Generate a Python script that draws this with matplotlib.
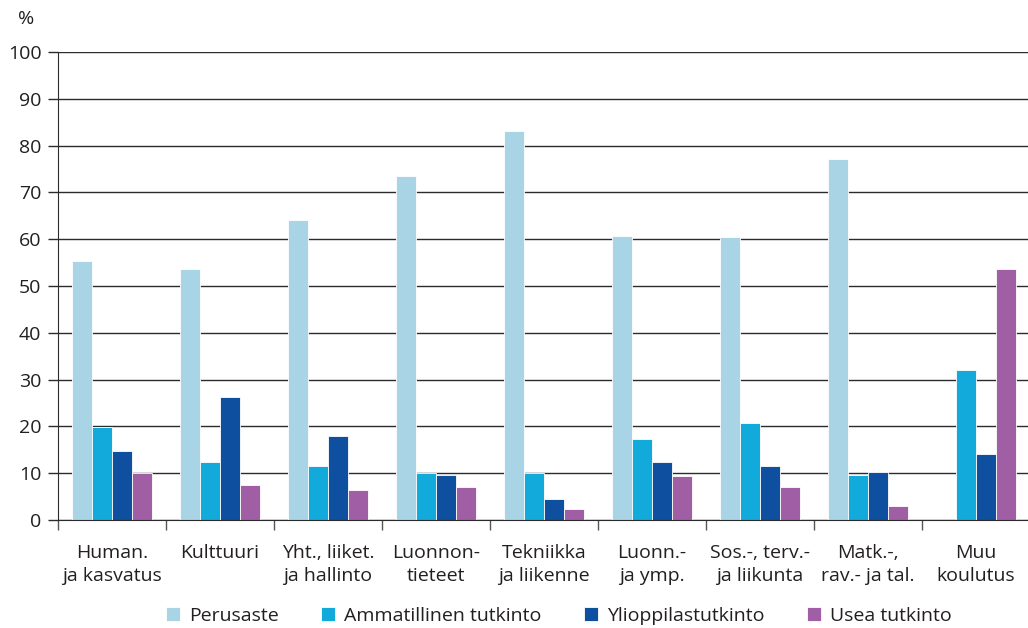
import numpy as np
import matplotlib
matplotlib.use("Agg")
import matplotlib.pyplot as plt

plt.rcParams['font.family'] = ['Open Sans', 'DejaVu Sans']

categories = ["Human.\nja kasvatus", "Kulttuuri", "Yht., liiket.\nja hallinto",
              "Luonnon-\ntieteet", "Tekniikka\nja liikenne", "Luonn.-\nja ymp.",
              "Sos.-, terv.-\nja liikunta", "Matk.-,\nrav.- ja tal.", "Muu\nkoulutus"]
series_names = ["Perusaste", "Ammatillinen tutkinto", "Ylioppilastutkinto", "Usea tutkinto"]
perusaste = [55.3, 53.7, 64.0, 73.4, 83.2, 60.7, 60.4, 77.2, 0.0]
ammatillinen = [19.9, 12.5, 11.6, 10.0, 10.0, 17.4, 20.8, 9.6, 32.0]
ylioppilas = [14.8, 26.2, 17.9, 9.6, 4.4, 12.4, 11.6, 10.2, 14.2]
usea = [10.0, 7.4, 6.4, 7.0, 2.3, 9.4, 7.0, 3.0, 53.6]
colors = ["#a8d4e6", "#12aadb", "#0e4fa0", "#a05fa5"]

fs = 14
txt = "#231f20"

fig = plt.figure(figsize=(10.28, 6.28), dpi=100)
ax = fig.add_axes([58/1028, 1 - 520/628, 972/1028, 468/628])

x = np.arange(len(categories))
w = 0.183
for i, (vals, c, name) in enumerate(zip([perusaste, ammatillinen, ylioppilas, usea], colors, series_names)):
    ax.bar(x + (i - 1.5) * w, vals, width=w, color=c, edgecolor="white", linewidth=0.6,
           label=name, zorder=3)

ax.set_xlim(-0.5, len(categories) - 0.5)
ax.set_ylim(0, 100)
ax.set_yticks(range(0, 101, 10))
ax.yaxis.grid(True, color="#2b2b2b", linewidth=1.0, zorder=0)
ax.tick_params(axis="y", length=7, width=1, color="#2b2b2b", labelsize=fs, pad=5, labelcolor=txt)

ax.set_xticks(np.arange(-0.5, len(categories), 1.0))
ax.set_xticklabels([])
ax.set_xticks(x, minor=True)
ax.set_xticklabels(categories, minor=True, fontsize=fs, color=txt, linespacing=1.35)
ax.tick_params(axis="x", which="major", length=7, width=1, color="#555555", direction="out")
ax.tick_params(axis="x", which="minor", length=0, pad=17)

for s in ["top", "right"]:
    ax.spines[s].set_visible(False)
ax.spines["left"].set_color("#2b2b2b")
ax.spines["bottom"].set_color("#2b2b2b")
ax.spines["left"].set_zorder(4)
ax.spines["bottom"].set_zorder(4)

fig.text(26/1028, 1 - 19/628, "%", fontsize=fs, color=txt, ha="center", va="center")

fig.legend(loc="center", bbox_to_anchor=(559/1028, 1 - 616/628), ncol=4, frameon=False,
           fontsize=fs, handlelength=0.72, handleheight=0.72, handletextpad=0.45,
           columnspacing=2.2, labelcolor=txt)

fig.savefig("out.png", dpi=100)
